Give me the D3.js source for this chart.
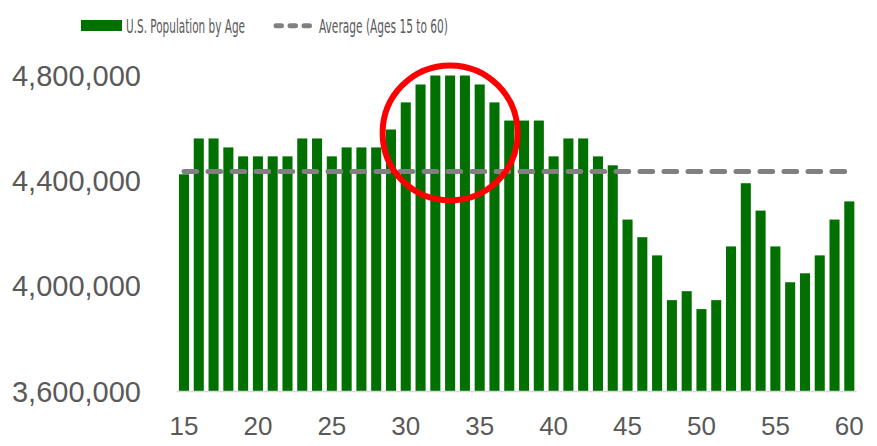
<!DOCTYPE html>
<html>
<head>
<meta charset="utf-8">
<script src="https://cdn.jsdelivr.net/npm/d3@7"></script>
<style>
  body { margin: 0; background: #fff; }
  text { font-family: "Liberation Sans", Arial, sans-serif; fill: #595959; }
  .narrow { font-family: "Liberation Sans Narrow", "DejaVu Sans Condensed", sans-serif; }
</style>
</head>
<body>
<div id="chart"></div>
<script>
// Data

const ages = d3.range(15, 61);
const population = [
    4423000, 4559000, 4559000, 4525000, 4491000, 4491000, 4491000, 4491000, 4559000, 4559000,
    4491000, 4525000, 4525000, 4525000, 4593000, 4696000, 4764000, 4798000, 4798000, 4798000,
    4764000, 4696000, 4627000, 4627000, 4627000, 4491000, 4559000, 4559000, 4491000, 4457000,
    4251000, 4184000, 4115000, 3945000, 3979000, 3911000, 3945000, 4149000, 4389000, 4285000,
    4149000, 4013000, 4047000, 4115000, 4251000, 4320000
];
const average = 4434000;
const yTicks = [3600000, 4000000, 4400000, 4800000];
const xTicks = [15, 20, 25, 30, 35, 40, 45, 50, 55, 60];
const highlight = { age: 33, value: 4580000 };

// Dimensions

const width = 877,
    height = 446,
    margin = { top: 75, left: 176.6, bottom: 55, right: 20.3 };

const x = d3.scaleBand()
    .domain(ages)
    .range([margin.left, width - margin.right])
    .paddingInner(0.32)
    .paddingOuter(0.16);

const y = d3.scaleLinear()
    .domain([3600000, 4800000])
    .range([height - margin.bottom, margin.top]);

const svg = d3.select("#chart")
    .append("svg")
    .attr("width", width)
    .attr("height", height);

// Bars

svg.append("g")
    .selectAll("rect")
    .data(ages)
    .join("rect")
    .attr("x", d => x(d))
    .attr("y", (d, i) => y(population[i]))
    .attr("width", x.bandwidth())
    .attr("height", (d, i) => y(3600000) - y(population[i]))
    .attr("fill", "#007000");

// Baseline

svg.append("line")
    .attr("x1", margin.left)
    .attr("x2", width - margin.right)
    .attr("y1", y(3600000) + 0.5)
    .attr("y2", y(3600000) + 0.5)
    .attr("stroke", "#d9d9d9")
    .attr("stroke-width", 1.5);

// Average line

svg.append("line")
    .attr("x1", x(15) + x.bandwidth() / 2)
    .attr("x2", x(60) + x.bandwidth() / 2)
    .attr("y1", y(average))
    .attr("y2", y(average))
    .attr("stroke", "#808080")
    .attr("stroke-width", 5)
    .attr("stroke-linecap", "round")
    .attr("stroke-dasharray", "12.7 11.3");

// Axes

const yAxis = d3.axisLeft(y)
    .tickValues(yTicks)
    .tickSize(0)
    .tickPadding(0)
    .tickFormat(d3.format(","));

svg.append("g")
    .attr("transform", "translate(141,0)")
    .call(yAxis)
    .call(g => g.select(".domain").remove())
    .call(g => g.selectAll("text")
        .attr("fill", "#595959")
        .style("font-size", "29px")
        .attr("dy", "0.35em"));

const xAxis = d3.axisBottom(x)
    .tickValues(xTicks)
    .tickSize(0)
    .tickPadding(0);

svg.append("g")
    .attr("transform", `translate(0,${y(3600000)})`)
    .call(xAxis)
    .call(g => g.select(".domain").remove())
    .call(g => g.selectAll("text")
        .attr("fill", "#595959")
        .style("font-size", "26px")
        .attr("y", 44)
        .attr("dy", 0));

// Highlight circle

svg.append("circle")
    .attr("cx", x(highlight.age) + x.bandwidth() / 2)
    .attr("cy", y(highlight.value))
    .attr("r", 67.5)
    .attr("fill", "none")
    .attr("stroke", "#ff0000")
    .attr("stroke-width", 6);

// Legend

const legend = svg.append("g");

legend.append("rect")
    .attr("x", 81)
    .attr("y", 20)
    .attr("width", 41)
    .attr("height", 11)
    .attr("fill", "#007000");

legend.append("text")
    .attr("class", "narrow")
    .attr("x", 126)
    .attr("y", 33)
    .attr("textLength", 119)
    .attr("lengthAdjust", "spacingAndGlyphs")
    .style("font-size", "19px")
    .text("U.S. Population by Age");

legend.append("line")
    .attr("x1", 276)
    .attr("x2", 309.5)
    .attr("y1", 25.7)
    .attr("y2", 25.7)
    .attr("stroke", "#808080")
    .attr("stroke-width", 5)
    .attr("stroke-linecap", "round")
    .attr("stroke-dasharray", "5.5 8.5");

legend.append("text")
    .attr("class", "narrow")
    .attr("x", 319)
    .attr("y", 33)
    .attr("textLength", 129)
    .attr("lengthAdjust", "spacingAndGlyphs")
    .style("font-size", "19px")
    .text("Average (Ages 15 to 60)");
</script>
</body>
</html>
